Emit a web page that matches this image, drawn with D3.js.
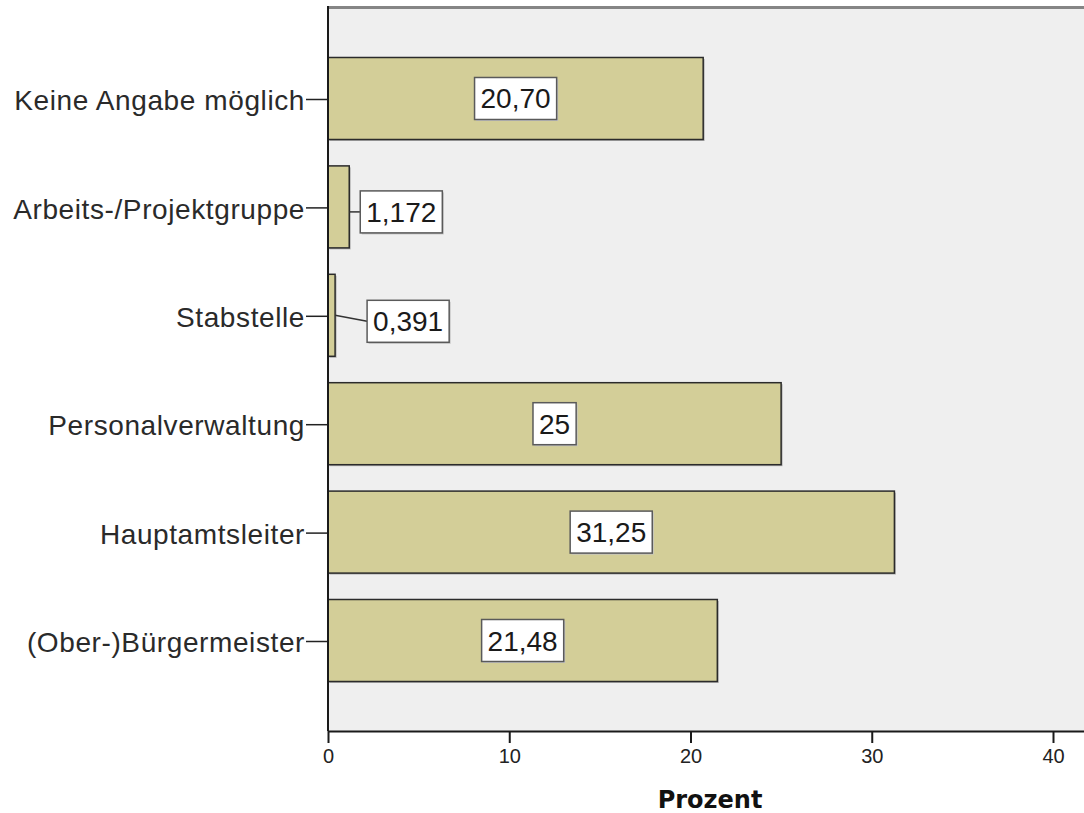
<!DOCTYPE html>
<html>
<head>
<meta charset="utf-8">
<script src="https://cdn.jsdelivr.net/npm/d3@7"></script>
<style>
  html, body { margin: 0; padding: 0; background: #ffffff; }
  svg { display: block; }
</style>
</head>
<body>
<svg id="chart" width="1084" height="813"></svg>
<script>
// Categories from top to bottom, with their share in percent
const categories = [
  "Keine Angabe möglich",
  "Arbeits-/Projektgruppe",
  "Stabstelle",
  "Personalverwaltung",
  "Hauptamtsleiter",
  "(Ober-)Bürgermeister"
];
const values = [20.70, 1.172, 0.391, 25, 31.25, 21.48];
const valueLabels = ["20,70", "1,172", "0,391", "25", "31,25", "21,48"];
const xTicks = [0, 10, 20, 30, 40];
const xTitle = "Prozent";

const svg = d3.select("#chart");

// Plot frame
const plot = { left: 328, top: 8, bottom: 731 };

const x = d3.scaleLinear().domain([0, 40]).range([plot.left, plot.left + 725]);
const y = d3.scaleBand()
  .domain(categories)
  .range([plot.top, plot.bottom])
  .paddingInner(0.2435)
  .paddingOuter(0.4566);

// Background of the plotting area
svg.append("rect")
  .attr("x", plot.left).attr("y", plot.top)
  .attr("width", 1084 - plot.left).attr("height", plot.bottom - plot.top)
  .attr("fill", "#efefef");

// Top frame line
svg.append("line")
  .attr("x1", plot.left).attr("x2", 1084)
  .attr("y1", plot.top - 0.5).attr("y2", plot.top - 0.5)
  .attr("stroke", "#858585").attr("stroke-width", 3);

// Bars with a soft shadow
const bars = svg.append("g");
bars.selectAll("rect.shadow")
  .data(categories)
  .join("rect")
  .attr("class", "shadow")
  .attr("x", x(0) + 1.5)
  .attr("y", d => y(d) + 1.5)
  .attr("width", (d, i) => x(values[i]) - x(0))
  .attr("height", y.bandwidth())
  .attr("fill", "#b5b5b5");
bars.selectAll("rect.bar")
  .data(categories)
  .join("rect")
  .attr("class", "bar")
  .attr("x", x(0))
  .attr("y", d => y(d))
  .attr("width", (d, i) => x(values[i]) - x(0))
  .attr("height", y.bandwidth())
  .attr("fill", "#d3ce98")
  .attr("stroke", "#2b2b2b")
  .attr("stroke-width", 1.5);

// Left axis with category labels
const yAxis = svg.append("g")
  .attr("transform", `translate(${plot.left},0)`)
  .call(d3.axisLeft(y).tickSize(22).tickPadding(1));
yAxis.select(".domain").remove();
yAxis.selectAll(".tick line").attr("stroke", "#222").attr("stroke-width", 1.5)
  .attr("transform", "translate(0,1)");
yAxis.selectAll(".tick text")
  .attr("font-family", "'Liberation Sans', Arial, sans-serif")
  .attr("font-size", 28)
  .attr("letter-spacing", "0.6px")
  .attr("fill", "#2a2a2a")
  .attr("dy", "0.42em");
svg.append("line")
  .attr("x1", plot.left).attr("x2", plot.left)
  .attr("y1", plot.top - 2).attr("y2", plot.bottom)
  .attr("stroke", "#1a1a1a").attr("stroke-width", 2);

// Bottom axis
const xAxis = svg.append("g")
  .attr("transform", `translate(0,${plot.bottom})`)
  .call(d3.axisBottom(x).tickValues(xTicks).tickFormat(d3.format("d")).tickSize(12).tickPadding(6).tickSizeOuter(0));
xAxis.select(".domain").attr("stroke", "#1a1a1a").attr("stroke-width", 2)
  .attr("d", `M${plot.left},0.5H1084`);
xAxis.selectAll(".tick line").attr("stroke", "#1a1a1a").attr("stroke-width", 2);
xAxis.selectAll(".tick text")
  .attr("font-family", "'Liberation Sans', Arial, sans-serif")
  .attr("font-size", 20)
  .attr("fill", "#222");

svg.append("text")
  .attr("x", 710).attr("y", 808)
  .attr("text-anchor", "middle")
  .attr("font-family", "'DejaVu Sans', sans-serif")
  .attr("font-weight", "bold")
  .attr("font-size", 24)
  .attr("fill", "#111")
  .text(xTitle);

// Value labels: boxed, centred in the bar, or beside it with a leader line
const outsideGap = { 1: 11, 2: 32 };
const outsideDrop = { 1: 5, 2: 6 };
const labels = svg.append("g");
categories.forEach((c, i) => {
  const g = labels.append("g");
  const t = g.append("text")
    .attr("font-family", "'Liberation Sans', Arial, sans-serif")
    .attr("font-size", 28)
    .attr("fill", "#1a1a1a")
    .attr("text-anchor", "middle")
    .text(valueLabels[i]);
  const tw = t.node().getComputedTextLength();
  const bw = tw + 12, bh = 42;
  const x0 = x(0), x1 = x(values[i]);
  const cy = y(c) + y.bandwidth() / 2;
  let bx, by;
  if (x1 - x0 > bw + 10) {
    bx = (x0 + x1) / 2 - bw / 2;
    by = cy - bh / 2;
  } else {
    bx = x1 + outsideGap[i];
    by = cy + outsideDrop[i] - bh / 2;
    g.insert("line", "text")
      .attr("x1", x1).attr("y1", cy + (i === 2 ? 0 : outsideDrop[i]))
      .attr("x2", bx).attr("y2", by + bh / 2)
      .attr("stroke", "#333").attr("stroke-width", 1.5);
  }
  g.insert("rect", "text")
    .attr("x", bx + 1.5).attr("y", by + 1.5)
    .attr("width", bw).attr("height", bh)
    .attr("fill", "#c4c4c4");
  g.insert("rect", "text")
    .attr("x", bx).attr("y", by)
    .attr("width", bw).attr("height", bh)
    .attr("fill", "#ffffff")
    .attr("stroke", "#5a5a5a").attr("stroke-width", 1.5);
  t.attr("x", bx + bw / 2).attr("y", by + bh / 2 + 10);
});
</script>
</body>
</html>
